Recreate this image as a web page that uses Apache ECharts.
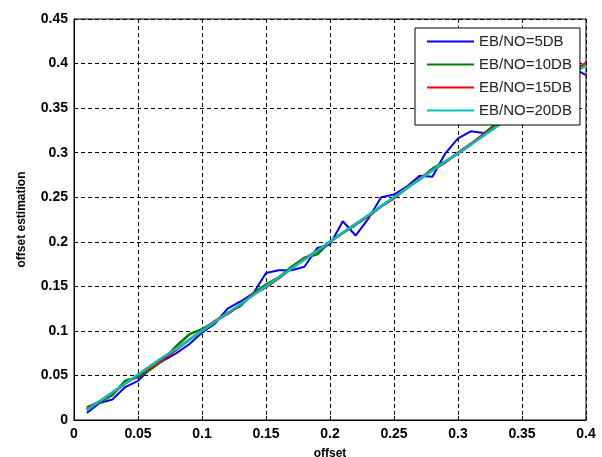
<!DOCTYPE html>
<html>
<head>
<meta charset="utf-8">
<script src="https://cdn.jsdelivr.net/npm/echarts@6/dist/echarts.min.js"></script>
<style>
  html, body { margin: 0; padding: 0; background: #fff; }
  #chart { width: 602px; height: 457px; }
</style>
</head>
<body>
<div id="chart"></div>
<script>
// offset values (x)
var offsets = [0.01, 0.02, 0.03, 0.04, 0.05, 0.06, 0.07, 0.08, 0.09, 0.10,
               0.11, 0.12, 0.13, 0.14, 0.15, 0.16, 0.17, 0.18, 0.19, 0.20,
               0.21, 0.22, 0.23, 0.24, 0.25, 0.26, 0.27, 0.28, 0.29, 0.30,
               0.31, 0.32, 0.33, 0.34, 0.35, 0.36, 0.37, 0.38, 0.39, 0.40];

// estimated offset, one list per Eb/No
var est5 = [0.008, 0.019, 0.023, 0.037, 0.044, 0.058, 0.067, 0.075, 0.085, 0.098,
            0.108, 0.125, 0.133, 0.142, 0.165, 0.168, 0.168, 0.172, 0.193, 0.197,
            0.223, 0.207, 0.226, 0.250, 0.253, 0.262, 0.274, 0.273, 0.299, 0.316,
            0.324, 0.322, 0.330, 0.336, 0.347, 0.358, 0.368, 0.379, 0.395, 0.387];
var est10 = [0.014, 0.020, 0.028, 0.044, 0.048, 0.057, 0.068, 0.083, 0.096, 0.102,
             0.110, 0.120, 0.128, 0.142, 0.152, 0.160, 0.172, 0.182, 0.186, 0.200,
             0.210, 0.219, 0.229, 0.240, 0.249, 0.261, 0.270, 0.282, 0.290, 0.299,
             0.309, 0.321, 0.333, 0.341, 0.350, 0.360, 0.370, 0.380, 0.391, 0.400];
var est15 = [0.012, 0.021, 0.030, 0.041, 0.050, 0.059, 0.069, 0.079, 0.090, 0.100,
             0.111, 0.119, 0.130, 0.141, 0.149, 0.159, 0.170, 0.181, 0.190, 0.200,
             0.210, 0.220, 0.229, 0.240, 0.249, 0.260, 0.271, 0.280, 0.289, 0.300,
             0.310, 0.320, 0.330, 0.340, 0.350, 0.360, 0.370, 0.381, 0.391, 0.401];
var est20 = [0.011, 0.021, 0.031, 0.041, 0.051, 0.061, 0.071, 0.080, 0.090, 0.100,
             0.110, 0.120, 0.130, 0.140, 0.150, 0.160, 0.170, 0.180, 0.190, 0.200,
             0.210, 0.220, 0.230, 0.240, 0.250, 0.260, 0.270, 0.280, 0.290, 0.299,
             0.309, 0.319, 0.329, 0.339, 0.349, 0.359, 0.369, 0.379, 0.389, 0.398];

var names = ['EB/NO=5DB', 'EB/NO=10DB', 'EB/NO=15DB', 'EB/NO=20DB'];
var colors = ['#0000ff', '#008000', '#ff0000', '#00bfbf'];

function pairs(ys) {
    var out = [];
    for (var i = 0; i < offsets.length; i++) {
        out.push([offsets[i], ys[i]]);
    }
    return out;
}

var labelFont = {
    color: '#000',
    fontFamily: 'Liberation Sans, Arial, sans-serif',
    fontWeight: 'bold',
    fontSize: 14
};
var nameFont = { color: '#000', fontFamily: 'Liberation Sans, Arial, sans-serif', fontWeight: 'bold', fontSize: 12 };
var gridLine = { show: true, lineStyle: { color: '#000', type: [4, 3], width: 1 } };

var myChart = echarts.init(document.getElementById('chart'));
var option = {
    backgroundColor: '#fff',
    animation: false,
    color: colors,
    grid: {
        left: 74, right: 16, top: 19, bottom: 37,
        outerBoundsMode: 'none',
        containLabel: false,
        show: true, borderColor: '#000', borderWidth: 1
    },
    legend: {
        orient: 'vertical',
        left: 415, top: 28,
        padding: [6, 8, 7, 11],
        itemGap: 8,
        itemWidth: 47,
        itemHeight: 14,
        itemTextGap: 4,
        itemStyle: { opacity: 0 },
        backgroundColor: '#fff',
        borderColor: '#000',
        borderWidth: 1,
        borderRadius: 0,
        data: names,
        textStyle: { color: '#222', fontFamily: 'Liberation Sans, Arial, sans-serif', fontSize: 15 }
    },
    xAxis: {
        type: 'value',
        min: 0, max: 0.4, interval: 0.05,
        name: 'offset',
        nameLocation: 'middle',
        nameGap: 28,
        nameTextStyle: nameFont,
        axisLine: { lineStyle: { color: '#000' } },
        axisTick: { inside: true, length: 4, lineStyle: { color: '#000' } },
        axisLabel: Object.assign({ margin: 7 }, labelFont),
        splitLine: gridLine
    },
    yAxis: {
        type: 'value',
        min: 0, max: 0.45, interval: 0.05,
        name: 'offset estimation',
        nameLocation: 'middle',
        nameGap: 46,
        nameTextStyle: nameFont,
        axisLine: { show: true, lineStyle: { color: '#000' } },
        axisTick: { show: true, inside: true, length: 4, lineStyle: { color: '#000' } },
        axisLabel: Object.assign({ margin: 6 }, labelFont),
        splitLine: gridLine
    },
    series: [est5, est10, est15, est20].map(function (ys, i) {
        return {
            name: names[i],
            type: 'line',
            symbol: 'none',
            data: pairs(ys),
            lineStyle: { width: i === 0 ? 2 : 2.5, color: colors[i] }
        };
    })
};
myChart.setOption(option);
</script>
</body>
</html>
